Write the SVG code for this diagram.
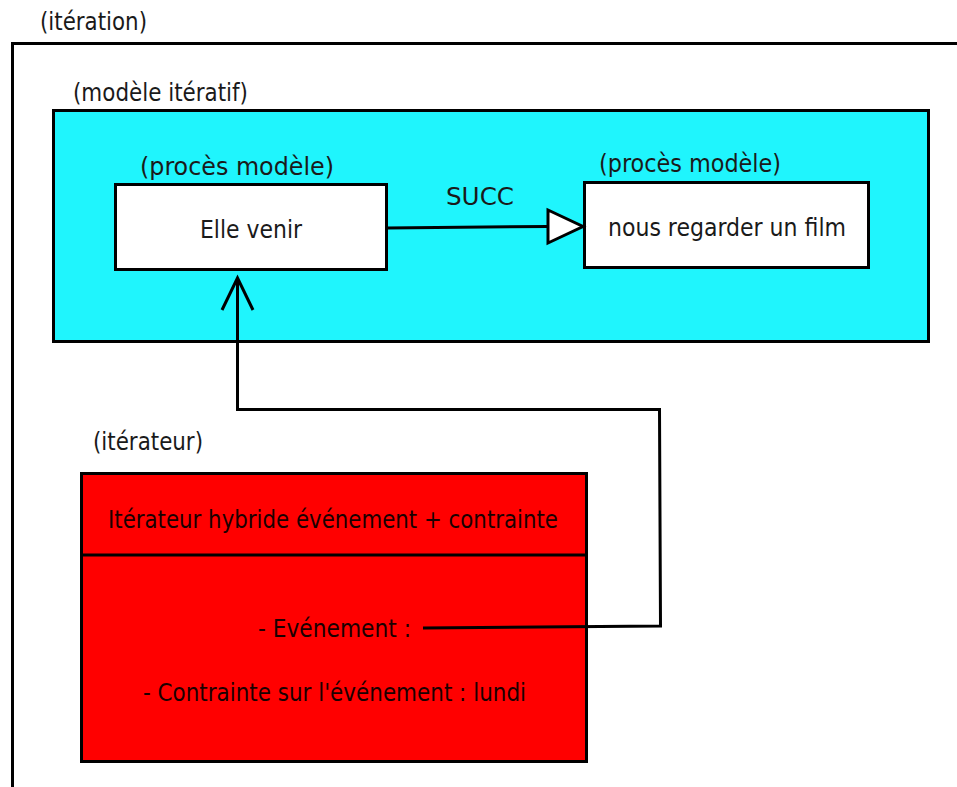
<svg xmlns="http://www.w3.org/2000/svg" width="957" height="787" viewBox="0 0 957 787">
  <defs>
    <style>
      .t { font-family: "DejaVu Sans Condensed", "DejaVu Sans", sans-serif; font-stretch: condensed; font-size: 24px; fill: #1a1a1a; }
      .box { stroke: #000; stroke-width: 3; }
      .conn { fill: none; stroke: #000; stroke-width: 3; }
    </style>
  </defs>
  <rect width="957" height="787" fill="#fff"/>
  <g id="iteration">
    <path d="M12.5 787 V43.5 H957" fill="none" stroke="#000" stroke-width="3"/>
    <text class="t" x="40" y="30" textLength="107" lengthAdjust="spacingAndGlyphs">(itération)</text>
  </g>
  <g id="modele-iteratif">
    <rect class="box" x="53.5" y="110.5" width="875" height="231" fill="#1FF5FD"/>
    <text class="t" x="73" y="101" textLength="175" lengthAdjust="spacingAndGlyphs">(modèle itératif)</text>
  </g>
  <g id="proces1">
    <rect class="box" x="115.5" y="184.5" width="271" height="85" fill="#fff"/>
    <text class="t" x="140" y="175" textLength="194" lengthAdjust="spacingAndGlyphs">(procès modèle)</text>
    <text class="t" x="200" y="238" textLength="102" lengthAdjust="spacingAndGlyphs">Elle venir</text>
  </g>
  <g id="proces2">
    <rect class="box" x="584.5" y="182.5" width="284" height="85" fill="#fff"/>
    <text class="t" x="599" y="172" textLength="182" lengthAdjust="spacingAndGlyphs">(procès modèle)</text>
    <text class="t" x="608" y="236" textLength="238" lengthAdjust="spacingAndGlyphs">nous regarder un film</text>
  </g>
  <g id="iterateur">
    <rect class="box" x="81.5" y="473.5" width="505" height="288" fill="#FF0000"/>
    <line class="box" x1="81.5" y1="555" x2="586.5" y2="555"/>
    <text class="t" x="93" y="450" textLength="110" lengthAdjust="spacingAndGlyphs">(itérateur)</text>
    <text class="t" x="108" y="528" textLength="450" lengthAdjust="spacingAndGlyphs" style="fill:#1a0000">Itérateur hybride événement + contrainte</text>
    <text class="t" x="258" y="637" textLength="153" lengthAdjust="spacingAndGlyphs" style="fill:#1a0000">- Evénement :</text>
    <text class="t" x="143" y="701" textLength="383" lengthAdjust="spacingAndGlyphs" style="fill:#1a0000">- Contrainte sur l'événement : lundi</text>
  </g>
  <g id="connectors">
    <path class="conn" d="M387 228 L548 226.5"/>
    <polygon points="548,210 583,226.5 548,243" fill="#fff" stroke="#000" stroke-width="3" stroke-linejoin="miter"/>
    <text class="t" x="446" y="205" textLength="68" lengthAdjust="spacingAndGlyphs">SUCC</text>
    <path class="conn" d="M423 628 L660.5 626 L659.5 409.5 L237.5 409.5 L237.5 278"/>
    <path class="conn" d="M222 310 L237.5 278 L253 310"/>
  </g>
</svg>
